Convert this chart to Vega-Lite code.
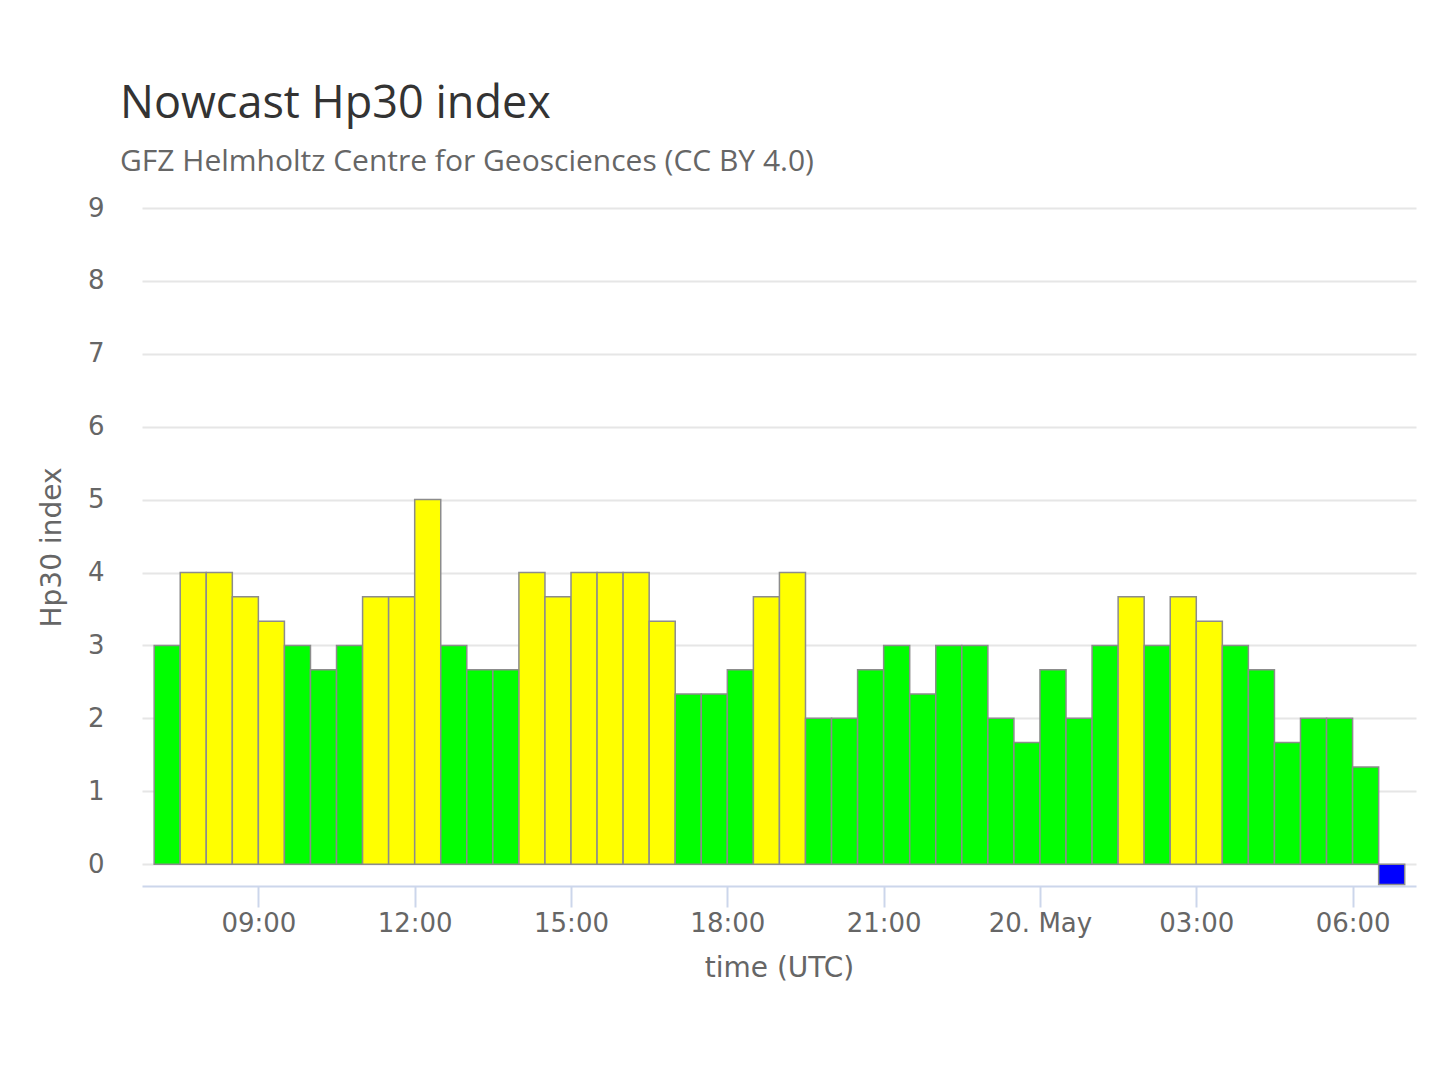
{
  "$schema": "https://vega.github.io/schema/vega-lite/v6.json",
  "width": 1274,
  "height": 678,
  "autosize": "none",
  "padding": {"left": 142, "top": 208, "right": 24, "bottom": 194},
  "background": "#ffffff",
  "title": {
    "text": "Nowcast Hp30 index",
    "subtitle": "GFZ Helmholtz Centre for Geosciences (CC BY 4.0)",
    "anchor": "start",
    "frame": "group",
    "dx": -22,
    "offset": 18,
    "font": "Open Sans",
    "fontSize": 45,
    "fontWeight": "normal",
    "color": "#333333",
    "subtitleFont": "Open Sans",
    "subtitleFontSize": 30,
    "subtitleColor": "#666666",
    "subtitlePadding": 20
  },
  "config": {
    "view": {"stroke": null},
    "axis": {
      "labelFont": "DejaVu Sans",
      "titleFont": "DejaVu Sans",
      "labelColor": "#666666",
      "titleColor": "#666666",
      "labelFontSize": 26,
      "titleFontSize": 28,
      "titleFontWeight": "normal"
    }
  },
  "data": {
    "values": [
      {"start": "2024-05-19T07:00:00Z", "end": "2024-05-19T07:30:00Z", "hp30": 3.0, "level": "quiet"},
      {"start": "2024-05-19T07:30:00Z", "end": "2024-05-19T08:00:00Z", "hp30": 4.0, "level": "active"},
      {"start": "2024-05-19T08:00:00Z", "end": "2024-05-19T08:30:00Z", "hp30": 4.0, "level": "active"},
      {"start": "2024-05-19T08:30:00Z", "end": "2024-05-19T09:00:00Z", "hp30": 3.667, "level": "active"},
      {"start": "2024-05-19T09:00:00Z", "end": "2024-05-19T09:30:00Z", "hp30": 3.333, "level": "active"},
      {"start": "2024-05-19T09:30:00Z", "end": "2024-05-19T10:00:00Z", "hp30": 3.0, "level": "quiet"},
      {"start": "2024-05-19T10:00:00Z", "end": "2024-05-19T10:30:00Z", "hp30": 2.667, "level": "quiet"},
      {"start": "2024-05-19T10:30:00Z", "end": "2024-05-19T11:00:00Z", "hp30": 3.0, "level": "quiet"},
      {"start": "2024-05-19T11:00:00Z", "end": "2024-05-19T11:30:00Z", "hp30": 3.667, "level": "active"},
      {"start": "2024-05-19T11:30:00Z", "end": "2024-05-19T12:00:00Z", "hp30": 3.667, "level": "active"},
      {"start": "2024-05-19T12:00:00Z", "end": "2024-05-19T12:30:00Z", "hp30": 5.0, "level": "active"},
      {"start": "2024-05-19T12:30:00Z", "end": "2024-05-19T13:00:00Z", "hp30": 3.0, "level": "quiet"},
      {"start": "2024-05-19T13:00:00Z", "end": "2024-05-19T13:30:00Z", "hp30": 2.667, "level": "quiet"},
      {"start": "2024-05-19T13:30:00Z", "end": "2024-05-19T14:00:00Z", "hp30": 2.667, "level": "quiet"},
      {"start": "2024-05-19T14:00:00Z", "end": "2024-05-19T14:30:00Z", "hp30": 4.0, "level": "active"},
      {"start": "2024-05-19T14:30:00Z", "end": "2024-05-19T15:00:00Z", "hp30": 3.667, "level": "active"},
      {"start": "2024-05-19T15:00:00Z", "end": "2024-05-19T15:30:00Z", "hp30": 4.0, "level": "active"},
      {"start": "2024-05-19T15:30:00Z", "end": "2024-05-19T16:00:00Z", "hp30": 4.0, "level": "active"},
      {"start": "2024-05-19T16:00:00Z", "end": "2024-05-19T16:30:00Z", "hp30": 4.0, "level": "active"},
      {"start": "2024-05-19T16:30:00Z", "end": "2024-05-19T17:00:00Z", "hp30": 3.333, "level": "active"},
      {"start": "2024-05-19T17:00:00Z", "end": "2024-05-19T17:30:00Z", "hp30": 2.333, "level": "quiet"},
      {"start": "2024-05-19T17:30:00Z", "end": "2024-05-19T18:00:00Z", "hp30": 2.333, "level": "quiet"},
      {"start": "2024-05-19T18:00:00Z", "end": "2024-05-19T18:30:00Z", "hp30": 2.667, "level": "quiet"},
      {"start": "2024-05-19T18:30:00Z", "end": "2024-05-19T19:00:00Z", "hp30": 3.667, "level": "active"},
      {"start": "2024-05-19T19:00:00Z", "end": "2024-05-19T19:30:00Z", "hp30": 4.0, "level": "active"},
      {"start": "2024-05-19T19:30:00Z", "end": "2024-05-19T20:00:00Z", "hp30": 2.0, "level": "quiet"},
      {"start": "2024-05-19T20:00:00Z", "end": "2024-05-19T20:30:00Z", "hp30": 2.0, "level": "quiet"},
      {"start": "2024-05-19T20:30:00Z", "end": "2024-05-19T21:00:00Z", "hp30": 2.667, "level": "quiet"},
      {"start": "2024-05-19T21:00:00Z", "end": "2024-05-19T21:30:00Z", "hp30": 3.0, "level": "quiet"},
      {"start": "2024-05-19T21:30:00Z", "end": "2024-05-19T22:00:00Z", "hp30": 2.333, "level": "quiet"},
      {"start": "2024-05-19T22:00:00Z", "end": "2024-05-19T22:30:00Z", "hp30": 3.0, "level": "quiet"},
      {"start": "2024-05-19T22:30:00Z", "end": "2024-05-19T23:00:00Z", "hp30": 3.0, "level": "quiet"},
      {"start": "2024-05-19T23:00:00Z", "end": "2024-05-19T23:30:00Z", "hp30": 2.0, "level": "quiet"},
      {"start": "2024-05-19T23:30:00Z", "end": "2024-05-20T00:00:00Z", "hp30": 1.667, "level": "quiet"},
      {"start": "2024-05-20T00:00:00Z", "end": "2024-05-20T00:30:00Z", "hp30": 2.667, "level": "quiet"},
      {"start": "2024-05-20T00:30:00Z", "end": "2024-05-20T01:00:00Z", "hp30": 2.0, "level": "quiet"},
      {"start": "2024-05-20T01:00:00Z", "end": "2024-05-20T01:30:00Z", "hp30": 3.0, "level": "quiet"},
      {"start": "2024-05-20T01:30:00Z", "end": "2024-05-20T02:00:00Z", "hp30": 3.667, "level": "active"},
      {"start": "2024-05-20T02:00:00Z", "end": "2024-05-20T02:30:00Z", "hp30": 3.0, "level": "quiet"},
      {"start": "2024-05-20T02:30:00Z", "end": "2024-05-20T03:00:00Z", "hp30": 3.667, "level": "active"},
      {"start": "2024-05-20T03:00:00Z", "end": "2024-05-20T03:30:00Z", "hp30": 3.333, "level": "active"},
      {"start": "2024-05-20T03:30:00Z", "end": "2024-05-20T04:00:00Z", "hp30": 3.0, "level": "quiet"},
      {"start": "2024-05-20T04:00:00Z", "end": "2024-05-20T04:30:00Z", "hp30": 2.667, "level": "quiet"},
      {"start": "2024-05-20T04:30:00Z", "end": "2024-05-20T05:00:00Z", "hp30": 1.667, "level": "quiet"},
      {"start": "2024-05-20T05:00:00Z", "end": "2024-05-20T05:30:00Z", "hp30": 2.0, "level": "quiet"},
      {"start": "2024-05-20T05:30:00Z", "end": "2024-05-20T06:00:00Z", "hp30": 2.0, "level": "quiet"},
      {"start": "2024-05-20T06:00:00Z", "end": "2024-05-20T06:30:00Z", "hp30": 1.333, "level": "quiet"},
      {"start": "2024-05-20T06:30:00Z", "end": "2024-05-20T07:00:00Z", "hp30": -0.28, "level": "pending"}
    ]
  },
  "mark": {"type": "bar", "stroke": "#8c8c8c", "strokeWidth": 1.5},
  "encoding": {
    "x": {
      "field": "start",
      "type": "temporal",
      "scale": {
        "type": "utc",
        "domain": ["2024-05-19T06:46:00Z", "2024-05-20T07:13:00Z"]
      },
      "axis": {
        "title": "time (UTC)",
        "titlePadding": 18,
        "grid": false,
        "domainColor": "#ccd6eb",
        "domainWidth": 2,
        "tickColor": "#ccd6eb",
        "tickWidth": 2,
        "tickSize": 21,
        "labelPadding": 3,
        "labelFlush": false,
        "labelOverlap": false,
        "values": [
          {"year": 2024, "month": 5, "date": 19, "hours": 9, "utc": true},
          {"year": 2024, "month": 5, "date": 19, "hours": 12, "utc": true},
          {"year": 2024, "month": 5, "date": 19, "hours": 15, "utc": true},
          {"year": 2024, "month": 5, "date": 19, "hours": 18, "utc": true},
          {"year": 2024, "month": 5, "date": 19, "hours": 21, "utc": true},
          {"year": 2024, "month": 5, "date": 20, "hours": 0, "utc": true},
          {"year": 2024, "month": 5, "date": 20, "hours": 3, "utc": true},
          {"year": 2024, "month": 5, "date": 20, "hours": 6, "utc": true}
        ],
        "labelExpr": "utchours(datum.value) == 0 ? utcFormat(datum.value, '%d. %b') : utcFormat(datum.value, '%H:%M')"
      }
    },
    "x2": {"field": "end"},
    "y": {
      "field": "hp30",
      "type": "quantitative",
      "scale": {"domain": [-0.3, 9], "nice": false, "zero": false},
      "axis": {
        "title": "Hp30 index",
        "titlePadding": 21,
        "values": [0, 1, 2, 3, 4, 5, 6, 7, 8, 9],
        "domain": false,
        "ticks": false,
        "gridColor": "#e6e6e6",
        "gridWidth": 2,
        "labelPadding": 38,
        "labelBaseline": "middle"
      }
    },
    "y2": {"datum": 0},
    "color": {
      "field": "level",
      "type": "nominal",
      "scale": {
        "domain": ["quiet", "active", "pending"],
        "range": ["#00ff00", "#ffff00", "#0000ff"]
      },
      "legend": null
    }
  }
}
